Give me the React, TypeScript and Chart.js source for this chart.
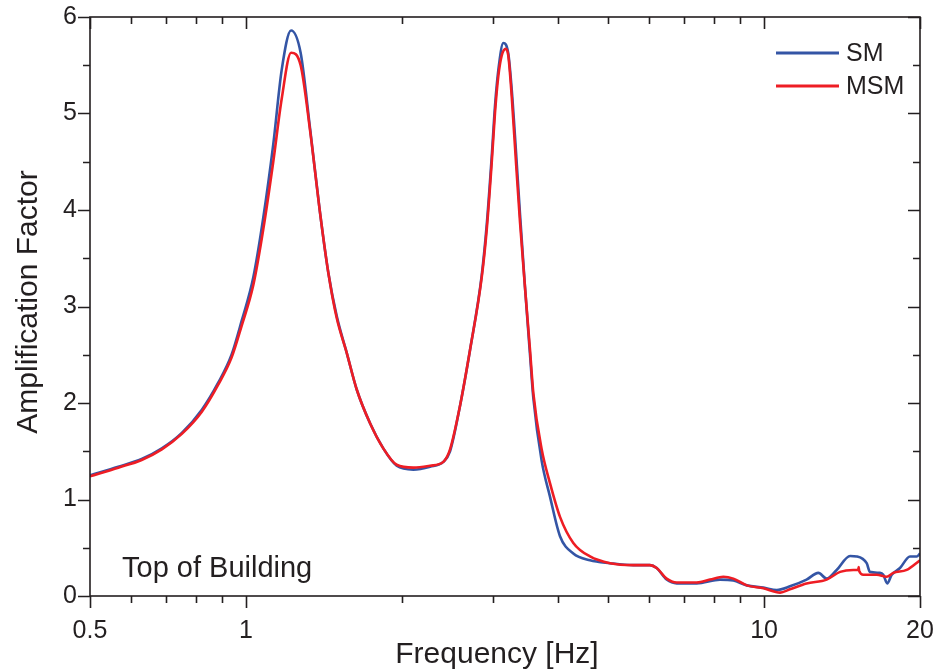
import React, { useEffect, useRef } from "react";
import { Chart, registerables } from "chart.js";

Chart.register(...registerables);

// ---- data ----
const SM_FREQ = [
  0.5, 0.567, 0.629, 0.688, 0.752, 0.822, 0.884, 0.938, 0.981, 1.033, 1.08, 1.129, 1.172, 1.222, 1.275,
  1.33, 1.39, 1.442, 1.497, 1.565, 1.636, 1.736, 1.841, 1.954, 2.104, 2.267, 2.404, 2.477, 2.589, 2.707,
  2.851, 2.916, 2.981, 3.025, 3.07, 3.139, 3.209, 3.258, 3.321, 3.381, 3.456, 3.534, 3.587, 3.722, 3.862,
  4.038, 4.284, 4.614, 5.043, 5.592, 6.022, 6.205, 6.486, 6.785, 7.414, 8.222, 8.725, 9.262, 9.971, 10.58,
  11.22, 12.08, 12.73, 13.21, 13.81, 14.66, 15.1, 15.78, 16.01, 16.74, 16.99, 17.29, 17.64, 18.3, 19.13,
  19.71, 20,
];
const SM_AMP = [
  1.25, 1.34, 1.42, 1.53, 1.69, 1.93, 2.21, 2.5, 2.85, 3.3, 3.92, 4.68, 5.45, 5.86, 5.63,
  4.84, 3.97, 3.35, 2.9, 2.52, 2.14, 1.79, 1.53, 1.35, 1.31, 1.34, 1.39, 1.5, 1.97, 2.55,
  3.32, 3.85, 4.55, 5.08, 5.45, 5.73, 5.62, 5.25, 4.6, 3.95, 3.2, 2.5, 2.05, 1.4, 1.03,
  0.62, 0.44, 0.37, 0.34, 0.32, 0.32, 0.29, 0.17, 0.13, 0.13, 0.17, 0.16, 0.11, 0.087, 0.062,
  0.1, 0.17, 0.24, 0.18, 0.27, 0.415, 0.41, 0.34, 0.25, 0.24, 0.22, 0.13, 0.22, 0.29, 0.41,
  0.41, 0.44,
];
const MSM_FREQ = [
  0.5, 0.567, 0.629, 0.688, 0.752, 0.822, 0.884, 0.938, 0.981, 1.033, 1.08, 1.129, 1.172, 1.222, 1.275,
  1.33, 1.39, 1.442, 1.497, 1.565, 1.636, 1.736, 1.841, 1.954, 2.104, 2.267, 2.404, 2.477, 2.589, 2.707,
  2.851, 2.916, 2.981, 3.025, 3.07, 3.116, 3.173, 3.209, 3.258, 3.321, 3.381, 3.456, 3.534, 3.587, 3.722,
  3.862, 4.038, 4.284, 4.614, 5.043, 5.592, 6.022, 6.205, 6.486, 6.785, 7.414, 7.866, 8.344, 8.725, 9.262,
  9.971, 10.74, 11.22, 12.08, 13.21, 14.02, 14.87, 15.2, 15.23, 15.26, 15.55, 16.5, 17.25, 17.76, 18.85,
  20,
];
const MSM_AMP = [
  1.24, 1.33, 1.41, 1.52, 1.68, 1.91, 2.19, 2.47, 2.8, 3.22, 3.8, 4.5, 5.15, 5.63, 5.5,
  4.82, 3.97, 3.35, 2.88, 2.52, 2.14, 1.79, 1.53, 1.36, 1.33, 1.35, 1.39, 1.52, 1.97, 2.55,
  3.3, 3.8, 4.49, 5.01, 5.39, 5.6, 5.67, 5.6, 5.18, 4.49, 3.87, 3.2, 2.55, 2.1, 1.52,
  1.17, 0.82, 0.55, 0.41, 0.34, 0.32, 0.32, 0.29, 0.18, 0.14, 0.14, 0.17, 0.2, 0.18, 0.11,
  0.08, 0.035, 0.07, 0.13, 0.17, 0.25, 0.27, 0.27, 0.3, 0.26, 0.22, 0.22, 0.2, 0.24, 0.27,
  0.37,
];
const SERIES_LABELS = ["SM", "MSM"];
const X_TICKS = [0.5, 0.6, 0.7, 0.8, 0.9, 1, 2, 3, 4, 5, 6, 7, 8, 9, 10, 20];
const X_LABELED = [0.5, 1, 10, 20];
const Y_TICKS = [0, 0.5, 1, 1.5, 2, 2.5, 3, 3.5, 4, 4.5, 5, 5.5, 6];
const X_TITLE = "Frequency [Hz]";
const Y_TITLE = "Amplification Factor";
const NOTE = "Top of Building";

const BLUE = "#3455a5";
const RED = "#ee1d24";
const INK = "#231f20";
const FONT = "'Liberation Sans', Arial, sans-serif";

const framePlugin = {
  id: "frame",
  afterDraw(chart: any) {
    const { ctx, chartArea } = chart;
    const { left, right, top, bottom } = chartArea;
    const xs = chart.scales.x;
    const ys = chart.scales.y;
    ctx.save();
    ctx.strokeStyle = INK;
    ctx.lineWidth = 1.6;
    ctx.strokeRect(left, top, right - left, bottom - top);
    ctx.beginPath();
    X_TICKS.forEach((v) => {
      const px = Math.round(xs.getPixelForValue(v)) + 0.5;
      const len = X_LABELED.includes(v) ? 12 : 7;
      ctx.moveTo(px, bottom);
      ctx.lineTo(px, bottom + len);
      ctx.moveTo(px, top);
      ctx.lineTo(px, top + len);
    });
    Y_TICKS.forEach((v) => {
      const py = Math.round(ys.getPixelForValue(v)) + 0.5;
      const len = Number.isInteger(v) ? 12 : 7;
      ctx.moveTo(left - len, py);
      ctx.lineTo(left, py);
      ctx.moveTo(right - len, py);
      ctx.lineTo(right, py);
    });
    ctx.stroke();

    // legend
    const colors = [BLUE, RED];
    ctx.font = `25px ${FONT}`;
    ctx.textBaseline = "middle";
    ctx.textAlign = "left";
    SERIES_LABELS.forEach((lab, i) => {
      const y = 53 + i * 33;
      ctx.strokeStyle = colors[i];
      ctx.lineWidth = 3;
      ctx.beginPath();
      ctx.moveTo(776, y);
      ctx.lineTo(839, y);
      ctx.stroke();
      ctx.fillStyle = INK;
      ctx.fillText(lab, 846, y + 1);
    });

    // annotation
    ctx.font = `29px ${FONT}`;
    ctx.textBaseline = "alphabetic";
    ctx.fillStyle = INK;
    ctx.fillText(NOTE, 122, 577);

    // axis titles
    ctx.font = `30px ${FONT}`;
    ctx.textAlign = "center";
    ctx.fillText(X_TITLE, 497, 663);
    ctx.save();
    ctx.translate(37, 302);
    ctx.rotate(-Math.PI / 2);
    ctx.fillText(Y_TITLE, 0, 0);
    ctx.restore();
    ctx.restore();
  },
};

export default function App() {
  const ref = useRef<HTMLCanvasElement | null>(null);
  useEffect(() => {
    if (!ref.current) return;
    const chart = new Chart(ref.current, {
      type: "line",
      data: {
        datasets: [
          {
            label: SERIES_LABELS[0],
            data: SM_FREQ.map((f, i) => ({ x: f, y: SM_AMP[i] })),
            borderColor: BLUE,
            borderWidth: 2.6,
            pointRadius: 0,
            cubicInterpolationMode: "monotone",
            order: 1,
          },
          {
            label: SERIES_LABELS[1],
            data: MSM_FREQ.map((f, i) => ({ x: f, y: MSM_AMP[i] })),
            borderColor: RED,
            borderWidth: 2.6,
            pointRadius: 0,
            cubicInterpolationMode: "monotone",
            order: 0,
          },
        ],
      },
      options: {
        animation: false,
        responsive: false,
        devicePixelRatio: 1,
        layout: { padding: { top: 17, right: 17, left: 0, bottom: 0 } },
        plugins: { legend: { display: false }, tooltip: { enabled: false } },
        scales: {
          x: {
            type: "logarithmic",
            min: 0.5,
            max: 20,
            grid: { display: false, drawTicks: false },
            border: { display: false },
            afterBuildTicks: (s: any) => {
              s.ticks = X_TICKS.map((v) => ({ value: v }));
            },
            afterFit: (s: any) => {
              s.height = 74;
              s.paddingLeft = 0;
              s.paddingRight = 0;
            },
            ticks: {
              autoSkip: false,
              maxRotation: 0,
              padding: 20,
              color: INK,
              font: { family: FONT, size: 25 },
              callback: (v: any) => (X_LABELED.includes(Number(v)) ? String(v) : ""),
            },
          },
          y: {
            min: 0,
            max: 6,
            grid: { display: false, drawTicks: false },
            border: { display: false },
            afterFit: (s: any) => {
              s.width = 90;
              s.paddingTop = 0;
              s.paddingBottom = 0;
            },
            ticks: {
              stepSize: 1,
              padding: 13,
              color: INK,
              font: { family: FONT, size: 25 },
            },
          },
        },
      },
      plugins: [framePlugin],
    });
    return () => chart.destroy();
  }, []);
  return (
    <div style={{ position: "absolute", left: 0, top: 0, width: 937, height: 670, background: "#fff" }}>
      <canvas ref={ref} width={937} height={670} style={{ width: 937, height: 670, display: "block" }} />
    </div>
  );
}
